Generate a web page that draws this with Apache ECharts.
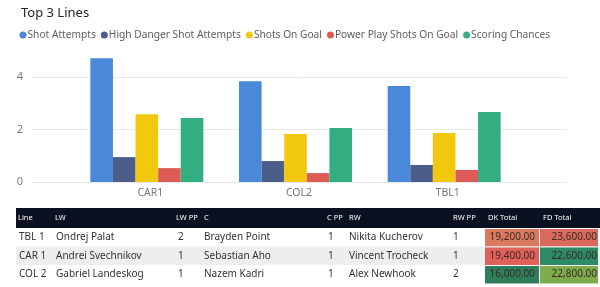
<!DOCTYPE html>
<html>
<head>
<meta charset="utf-8">
<script src="https://cdn.jsdelivr.net/npm/echarts@6/dist/echarts.min.js"></script>
<style>
  html, body { margin: 0; padding: 0; background: #fff; }
  #main { width: 600px; height: 287px; }
</style>
</head>
<body>
<div id="main"></div>
<script>
// chart data
const categories = ["CAR1", "COL2", "TBL1"];
const seriesNames = ["Shot Attempts", "High Danger Shot Attempts", "Shots On Goal", "Power Play Shots On Goal", "Scoring Chances"];
const shotAttempts = [4.72, 3.85, 3.66];
const highDanger = [0.95, 0.80, 0.65];
const shotsOnGoal = [2.59, 1.83, 1.87];
const ppShotsOnGoal = [0.53, 0.34, 0.46];
const scoringChances = [2.44, 2.06, 2.67];
const yMax = 5;
const yInterval = 2;

// table data
const headers = ["Line", "LW", "LW PP", "C", "C PP", "RW", "RW PP", "DK Total", "FD Total"];
const lines = ["TBL 1", "CAR 1", "COL 2"];
const lw = ["Ondrej Palat", "Andrei Svechnikov", "Gabriel Landeskog"];
const lwPP = [2, 1, 1];
const center = ["Brayden Point", "Sebastian Aho", "Nazem Kadri"];
const cPP = [1, 1, 1];
const rw = ["Nikita Kucherov", "Vincent Trocheck", "Alex Newhook"];
const rwPP = [1, 1, 2];
const dkTotal = [19200, 19400, 16000];
const fdTotal = [23600, 22600, 22800];

// conditional formatting colours
const dkColors = ["#da7a5e", "#e0605a", "#2f7d5c"];
const fdColors = ["#d96a5d", "#2c8a64", "#7eab4c"];
const seriesColors = ["#4a88da", "#4c5d8a", "#f2c80f", "#dc5b57", "#33ae81"];

const FONT = "Noto Sans";

function fmt(n) {
  let s = n.toFixed(2).split(".");
  s[0] = s[0].replace(/\B(?=(\d{3})+(?!\d))/g, ",");
  return s.join(".");
}

// table layout
const colX = [19, 56, 178, 204, 328, 349, 453];
const headerTop = 208, headerH = 20, rowH = 18.5;
const dkX = 485, dkW = 54, fdX = 540, fdW = 58;

let g = [];
g.push({ type: "rect", shape: { x: 16, y: headerTop, width: 584, height: headerH }, style: { fill: "#0b1120" }, silent: true });
const headX = [18, 55, 176, 204, 327, 349, 453, 488, 543];
headers.forEach(function (h, i) {
  g.push({ type: "text", x: headX[i], y: headerTop + headerH / 2,
    style: { text: h, fill: "#fff", font: "7.5px '" + FONT + "'", verticalAlign: "middle" }, silent: true });
});
for (let r = 0; r < lines.length; r++) {
  const top = headerTop + headerH + r * rowH;
  const cy = top + rowH / 2;
  if (r === 1) {
    g.push({ type: "rect", shape: { x: 16, y: top, width: 584, height: rowH }, style: { fill: "#eeeeee" }, silent: true });
  }
  g.push({ type: "rect", shape: { x: dkX, y: top + 1, width: dkW, height: rowH - 1 }, style: { fill: dkColors[r] }, silent: true });
  g.push({ type: "rect", shape: { x: fdX, y: top + 1, width: fdW, height: rowH - 1 }, style: { fill: fdColors[r] }, silent: true });
  const vals = [lines[r], lw[r], String(lwPP[r]), center[r], String(cPP[r]), rw[r], String(rwPP[r])];
  vals.forEach(function (v, i) {
    g.push({ type: "text", x: colX[i], y: cy,
      style: { text: v, fill: "#333", font: "10px '" + FONT + "'", verticalAlign: "middle" }, silent: true });
  });
  g.push({ type: "text", x: dkX + dkW - 4, y: cy,
    style: { text: fmt(dkTotal[r]), fill: "#3a2a26", font: "10px '" + FONT + "'", align: "right", verticalAlign: "middle" }, silent: true });
  g.push({ type: "text", x: fdX + fdW - 1, y: cy,
    style: { text: fmt(fdTotal[r]), fill: "#3a2a26", font: "10px '" + FONT + "'", align: "right", verticalAlign: "middle" }, silent: true });
}

const seriesData = [shotAttempts, highDanger, shotsOnGoal, ppShotsOnGoal, scoringChances];

let option = {
  backgroundColor: "#fff",
  animation: false,
  textStyle: { fontFamily: FONT },
  title: {
    text: "Top 3 Lines",
    left: 16,
    top: 2,
    textStyle: { fontSize: 13, fontWeight: "normal", color: "#252423", fontFamily: FONT },
  },
  legend: {
    left: 14.5,
    top: 25,
    icon: "circle",
    itemWidth: 7,
    itemHeight: 7,
    itemGap: 5,
    textStyle: { fontSize: 10.2, color: "#605e5c", padding: [0, 0, 0, -4] },
    data: seriesNames,
  },
  grid: [
    { left: 32, right: 33, top: 51, bottom: 105 },
    { left: 72.5, width: 446, top: 51, bottom: 105 },
  ],
  xAxis: [
    { gridIndex: 0, type: "value", show: false, min: 0, max: 1 },
    {
      gridIndex: 1,
      type: "category",
      data: categories,
      axisLine: { show: false },
      axisTick: { show: false },
      axisLabel: { color: "#777", fontSize: 10.5, margin: 6, padding: [0, 0, 0, 7] },
    },
  ],
  yAxis: [
    {
      gridIndex: 0,
      type: "value",
      min: 0,
      max: yMax,
      interval: yInterval,
      axisLine: { show: false },
      axisTick: { show: false },
      axisLabel: { color: "#777", fontSize: 11, margin: 9, showMaxLabel: false },
      // the last colour hides the line at the max
      splitLine: { lineStyle: { color: ["#eaeaea", "#eaeaea", "#eaeaea", "rgba(0,0,0,0)"] } },
    },
    { gridIndex: 1, type: "value", min: 0, max: yMax, show: false, splitLine: { show: false } },
  ],
  series: seriesNames.map(function (name, i) {
    return {
      name: name,
      type: "bar",
      xAxisIndex: 1,
      yAxisIndex: 1,
      data: seriesData[i],
      itemStyle: { color: seriesColors[i] },
      barGap: "0%",
      barCategoryGap: "24%",
    };
  }),
  graphic: g,
};

const myChart = echarts.init(document.getElementById("main"), null, { renderer: "canvas" });
myChart.setOption(option);
</script>
</body>
</html>
